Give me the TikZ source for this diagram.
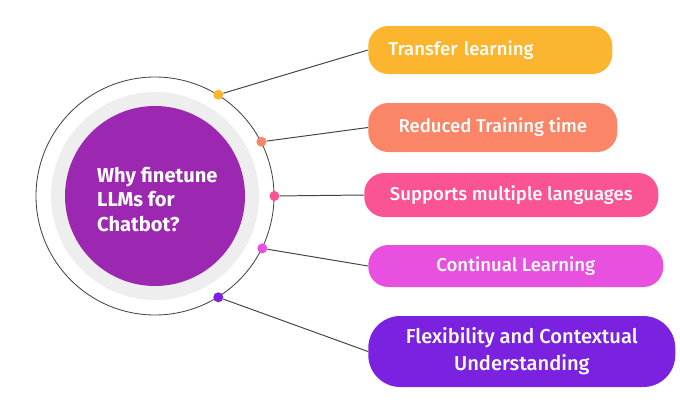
\documentclass[tikz,border=0pt]{standalone}
\usepackage{fontspec}
\setmainfont{Fira Sans}[UprightFont=* Medium, BoldFont=* Bold]
\usepackage{tikz}
\usetikzlibrary{positioning,calc}
\usepackage{xcolor}

\definecolor{huePurple}{HTML}{9C27B0}
\definecolor{hueRing}{HTML}{EEEEEE}
\definecolor{hueLine}{HTML}{444444}
\definecolor{hueYellow}{HTML}{FBB52E}
\definecolor{hueSalmon}{HTML}{FA8567}
\definecolor{huePink}{HTML}{FA5494}
\definecolor{hueMagenta}{HTML}{E850DF}
\definecolor{hueViolet}{HTML}{7B22E0}

\begin{document}
\begin{tikzpicture}[
  font=\fontsize{13.2}{15}\selectfont,
  reason/.style={rounded corners=0.5cm, minimum height=1.2cm, text=white, align=center, anchor=west, inner xsep=0.5cm},
  dot/.style={circle, inner sep=0pt, minimum size=0.25cm},
  link/.style={draw=hueLine, line width=0.7pt},
]
\useasboundingbox (0,0) rectangle (17,-10.275);

% Central hub: outline, grey ring, purple disk
\node[circle, draw=hueLine, line width=0.6pt, minimum size=5.95cm] (outer) at (3.875,-4.9) {};
\node[circle, fill=hueRing, minimum size=5.2cm] (ring) at (outer.center) {};
\node[circle, fill=huePurple, minimum size=4.5cm] (hub) at (outer.center) {};
\node[text=white, align=left, font=\fontsize{14.3}{17.5}\selectfont\bfseries, yshift=-0.08cm, xshift=0.06cm] (title) at (hub.center)
  {Why finetune\\LLMs for\\Chatbot?};

% Reasons
\node[reason, fill=hueYellow, minimum width=6.1cm, text width=5.1cm, align=left] (transfer) at (9.2,-1.25) {Transfer learning};
\node[reason, fill=hueSalmon, minimum width=6.225cm, minimum height=1.225cm] (reduced) at (9.2,-3.1875) {Reduced Training time};
\node[reason, fill=huePink, minimum width=7.35cm, minimum height=1.1cm] (langs) at (9.1,-4.875) {Supports multiple languages};
\node[reason, fill=hueMagenta, minimum width=7.375cm, minimum height=1.05cm] (continual) at (9.2,-6.65) {Continual Learning};
\node[reason, fill=hueViolet, minimum width=7.675cm, minimum height=1.775cm, rounded corners=0.8cm,
  font=\fontsize{14.3}{19}\selectfont] (flex) at (9.2,-8.7875) {Flexibility and Contextual\\Understanding};

% Dots on the outline
\node[dot, fill=hueYellow] (d1) at (outer.58) {};
\node[dot, fill=hueSalmon] (d2) at (outer.27) {};
\node[dot, fill=huePink] (d3) at (outer.0) {};
\node[dot, fill=hueMagenta] (d4) at (outer.-26) {};
\node[dot, fill=hueViolet] (d5) at (outer.-58) {};

% Connectors
\draw[link] (d1) -- (transfer.west);
\draw[link] (d2) -- (reduced.west);
\draw[link] (d3) -- (langs.west);
\draw[link] (d4) -- (continual.west);
\draw[link] (d5) -- (flex.west);

\end{tikzpicture}
\end{document}
